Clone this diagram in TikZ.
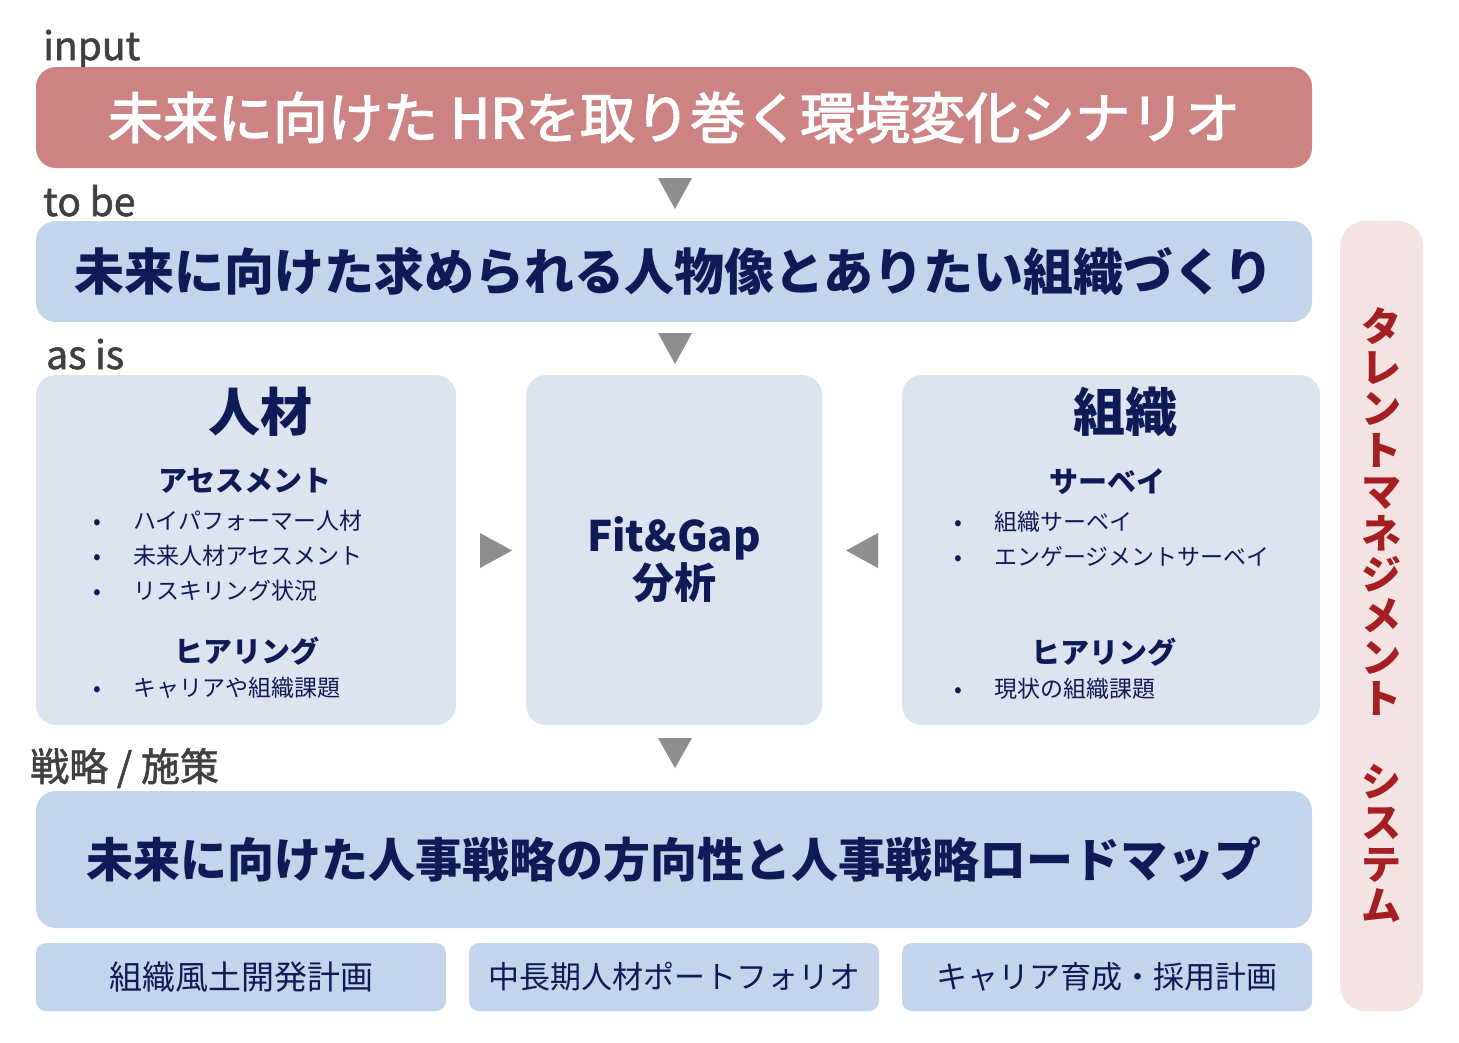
\documentclass[tikz,border=0pt]{standalone}
\usepackage{fontspec}
\setmainfont{Noto Sans CJK JP}
\newfontfamily\medfont{Noto Sans CJK JP}[FakeBold=1.5]
\newfontfamily\titlefont{Noto Sans CJK JP}[FakeBold=2.6]
\usepackage{xcolor}
\usepackage{tikz}

\definecolor{inputred}{HTML}{CD8383}
\definecolor{tobeblue}{HTML}{C4D5EB}
\definecolor{asisgray}{HTML}{DEE4EF}
\definecolor{tmspink}{HTML}{F4E3E3}
\definecolor{navy}{HTML}{0E1B57}
\definecolor{tmsred}{HTML}{A51E22}
\definecolor{trigray}{HTML}{8E8E8E}
\definecolor{labelgray}{HTML}{404040}

\newcommand{\fs}[1]{\fontsize{#1}{1.15\dimexpr#1pt\relax}\selectfont}

\tikzset{
  stagebox/.style={rectangle, rounded corners=20pt, inner sep=0pt, minimum width=1276pt},
  asisbox/.style={rectangle, rounded corners=20pt, fill=asisgray, inner sep=0pt, minimum height=350pt},
  planbox/.style={rectangle, rounded corners=10pt, fill=tobeblue, inner sep=0pt, minimum width=410pt, minimum height=68pt,
    text=navy, font=\fs{31}},
  stagelabel/.style={anchor=base west, inner sep=0pt, text=labelgray, font=\medfont\fs{39}},
  boxhead/.style={text=navy, font=\fs{52}\bfseries, inner sep=0pt},
  subhead/.style={text=navy, font=\fs{29}\bfseries, inner sep=0pt},
  item/.style={anchor=west, text=navy, font=\fs{23}, inner sep=0pt},
}

\begin{document}
\begin{tikzpicture}[x=1pt,y=-1pt]
\useasboundingbox (0,0) rectangle (1459,1042);

% stages
\node[stagelabel] (inlabel) at (43,60) {input};
\node[stagebox, fill=inputred, minimum height=101pt, text=white, font=\titlefont\fs{55}] (input) at (674,117.5)
  {未来に向けた HRを取り巻く環境変化シナリオ};

\node[stagelabel] (tobelabel) at (43,216) {to be};
\node[stagebox, fill=tobeblue, minimum height=101pt, text=navy, font=\fs{50}\bfseries] (tobe) at (674,271.5)
  {未来に向けた求められる人物像とありたい組織づくり};

\node[stagelabel] (asislabel) at (46,369) {as is};

% 人材
\node[asisbox, minimum width=420pt] (jinzai) at (246,550) {};
\node[boxhead] (jinzaihead) at (260,412) {人材};
\node[subhead] (assess) at (245,481) {アセスメント};
\node[item] (assess1) at (93,521) {\makebox[40pt][l]{•}ハイパフォーマー人材};
\node[item] (assess2) at (93,556) {\makebox[40pt][l]{•}未来人材アセスメント};
\node[item] (assess3) at (93,591) {\makebox[40pt][l]{•}リスキリング状況};
\node[subhead] (hearingL) at (247,651) {ヒアリング};
\node[item] (hearingL1) at (93,688) {\makebox[40pt][l]{•}キャリアや組織課題};

% Fit&Gap
\node[asisbox, minimum width=296pt] (fitgap) at (674,550) {};
\node[text=navy, font=\fontsize{42}{47}\selectfont\bfseries, align=center, inner sep=0pt] (fitgaptext) at (674,560)
  {Fit\&Gap\\分析};

% 組織
\node[asisbox, minimum width=418pt] (soshiki) at (1111,550) {};
\node[boxhead] (soshikihead) at (1125,412) {組織};
\node[subhead] (survey) at (1107,482) {サーベイ};
\node[item] (survey1) at (954,522) {\makebox[40pt][l]{•}組織サーベイ};
\node[item] (survey2) at (954,557) {\makebox[40pt][l]{•}エンゲージメントサーベイ};
\node[subhead] (hearingR) at (1104,652) {ヒアリング};
\node[item] (hearingR1) at (954,689) {\makebox[40pt][l]{•}現状の組織課題};

% 戦略 / 施策
\node[stagelabel] (planlabel) at (30,781) {戦略 / 施策};
\node[stagebox, fill=tobeblue, minimum height=137pt, text=navy, font=\fs{47}\bfseries] (strategy) at (674,859.5)
  {未来に向けた人事戦略の方向性と人事戦略ロードマップ};

\node[planbox, font=\fs{33}] (plan1) at (241,977) {組織風土開発計画};
\node[planbox] (plan2) at (674,977) {中長期人材ポートフォリオ};
\node[planbox] (plan3) at (1107,977) {キャリア育成・採用計画};

% タレントマネジメント システム
\node[rectangle, rounded corners=25pt, fill=tmspink, minimum width=83pt, minimum height=790pt, inner sep=0pt] (tms) at (1381.5,616) {};
\node[text=tmsred, font=\fontsize{40}{41.4}\selectfont\bfseries, align=center, inner sep=0pt] (tmstext) at (1381.5,615)
  {タ\\レ\\ン\\ト\\マ\\ネ\\ジ\\メ\\ン\\ト\\　\\シ\\ス\\テ\\ム};

% arrows
\fill[trigray] (658,178) -- (692,178) -- (675,209) -- cycle;
\fill[trigray] (658,333) -- (692,333) -- (675,364) -- cycle;
\fill[trigray] (658,738) -- (692,738) -- (675,768) -- cycle;
\fill[trigray] (480,533) -- (480,568) -- (512,550.5) -- cycle;
\fill[trigray] (878,533) -- (878,568) -- (846,550.5) -- cycle;
\end{tikzpicture}
\end{document}
